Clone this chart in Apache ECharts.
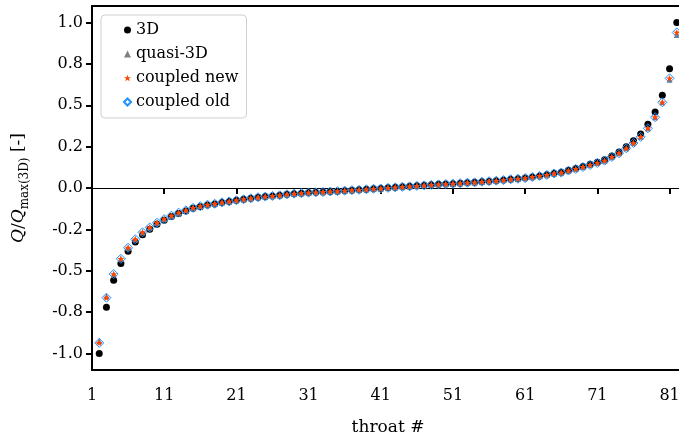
<!DOCTYPE html>
<html>
<head>
<meta charset="utf-8">
<script src="https://cdn.jsdelivr.net/npm/echarts@6/dist/echarts.min.js"></script>
<style>html,body{margin:0;padding:0;background:#fff;}#c{width:679px;height:439px;}</style>
</head>
<body>
<div id="c"></div>
<script>
const throats = [2,3,4,5,6,7,8,9,10,11,12,13,14,15,16,17,18,19,20,21,22,23,24,25,26,27,28,29,30,31,32,33,34,35,36,37,38,39,40,41,42,43,44,45,46,47,48,49,50,51,52,53,54,55,56,57,58,59,60,61,62,63,64,65,66,67,68,69,70,71,72,73,74,75,76,77,78,79,80,81,82];

const threeD = [-1.000,-0.720,-0.557,-0.456,-0.383,-0.327,-0.283,-0.249,-0.219,-0.195,-0.173,-0.154,-0.139,-0.123,-0.113,-0.103,-0.097,-0.088,-0.082,-0.074,-0.068,-0.062,-0.056,-0.052,-0.048,-0.044,-0.038,-0.034,-0.031,-0.028,-0.026,-0.024,-0.021,-0.019,-0.016,-0.013,-0.011,-0.008,-0.005,-0.003,0.001,0.004,0.007,0.010,0.013,0.016,0.019,0.022,0.024,0.026,0.029,0.032,0.034,0.038,0.041,0.044,0.048,0.053,0.056,0.060,0.067,0.073,0.080,0.089,0.095,0.107,0.118,0.130,0.143,0.156,0.171,0.194,0.218,0.250,0.285,0.327,0.385,0.460,0.561,0.720,1.000];

const quasi3D = [-0.925,-0.655,-0.520,-0.428,-0.361,-0.310,-0.268,-0.238,-0.210,-0.188,-0.167,-0.149,-0.135,-0.120,-0.110,-0.101,-0.095,-0.087,-0.081,-0.074,-0.068,-0.062,-0.056,-0.052,-0.048,-0.044,-0.038,-0.034,-0.031,-0.028,-0.026,-0.024,-0.021,-0.019,-0.016,-0.013,-0.011,-0.008,-0.005,-0.003,0.001,0.004,0.007,0.010,0.013,0.016,0.019,0.022,0.024,0.026,0.029,0.032,0.034,0.038,0.041,0.044,0.048,0.053,0.056,0.060,0.067,0.073,0.079,0.088,0.093,0.105,0.115,0.127,0.139,0.151,0.165,0.188,0.210,0.240,0.272,0.309,0.361,0.428,0.518,0.655,0.925];

const coupledNew = [-0.936,-0.663,-0.520,-0.428,-0.361,-0.310,-0.268,-0.238,-0.210,-0.188,-0.167,-0.149,-0.135,-0.120,-0.110,-0.101,-0.095,-0.087,-0.081,-0.074,-0.068,-0.062,-0.056,-0.052,-0.048,-0.044,-0.038,-0.034,-0.031,-0.028,-0.026,-0.024,-0.021,-0.019,-0.016,-0.013,-0.011,-0.008,-0.005,-0.003,0.001,0.004,0.007,0.010,0.013,0.016,0.019,0.022,0.024,0.026,0.029,0.032,0.034,0.038,0.041,0.044,0.048,0.053,0.056,0.060,0.067,0.073,0.079,0.088,0.093,0.105,0.115,0.127,0.139,0.151,0.165,0.188,0.210,0.240,0.272,0.309,0.361,0.428,0.518,0.663,0.940];

const coupledOld = [-0.936,-0.663,-0.520,-0.428,-0.361,-0.310,-0.268,-0.238,-0.210,-0.188,-0.167,-0.149,-0.135,-0.120,-0.110,-0.101,-0.095,-0.087,-0.081,-0.074,-0.068,-0.062,-0.056,-0.052,-0.048,-0.044,-0.038,-0.034,-0.031,-0.028,-0.026,-0.024,-0.021,-0.019,-0.016,-0.013,-0.011,-0.008,-0.005,-0.003,0.001,0.004,0.007,0.010,0.013,0.016,0.019,0.022,0.024,0.026,0.029,0.032,0.034,0.038,0.041,0.044,0.048,0.053,0.056,0.060,0.067,0.073,0.079,0.088,0.093,0.105,0.115,0.127,0.139,0.151,0.165,0.188,0.210,0.240,0.272,0.309,0.361,0.428,0.518,0.663,0.940];

const seriesNames = ['3D','quasi-3D','coupled new','coupled old'];
const xTicks = [1,11,21,31,41,51,61,71,81];
const yTicks = [-1,-0.75,-0.5,-0.25,0,0.25,0.5,0.75,1];
const yTickLabels = ['-1.0','-0.8','-0.5','-0.2','0.0','0.2','0.5','0.8','1.0'];

const FONT = 'DejaVu Serif';
const STAR = 'path://M0,-10L2.35,-3.24L9.51,-3.09L3.8,1.24L5.88,8.09L0,4L-5.88,8.09L-3.8,1.24L-9.51,-3.09L-2.35,-3.24Z';

function pairs(vals){ return throats.map((t,i)=>[t, vals[i]]); }

const chart = echarts.init(document.getElementById('c'), null, {renderer:'canvas'});
chart.setOption({
  animation:false,
  backgroundColor:'#fff',
  grid:{left:92, top:6, right:-5, bottom:69, show:true, borderColor:'#000', borderWidth:2, backgroundColor:'transparent',
        containLabel:false, outerBoundsMode:'none'},
  xAxis:{
    type:'value', min:1, max:83,
    name:'throat #', nameLocation:'middle', nameGap:49,
    nameTextStyle:{fontFamily:FONT, fontSize:17, color:'#000'},
    axisLine:{show:false},
    axisTick:{show:true, length:6, lineStyle:{color:'#000', width:2}, customValues:xTicks},
    axisLabel:{fontFamily:FONT, fontSize:16, color:'#000', margin:18, customValues:xTicks},
    splitLine:{show:false}
  },
  yAxis:{
    type:'value', min:-1.1, max:1.1,
    name:'{i|Q}{r|/}{i|Q}{s|max(3D)}{r| [-]}', nameLocation:'middle', nameGap:61, nameRotate:90,
    nameTextStyle:{fontFamily:FONT, fontSize:17, color:'#000',
      rich:{
        i:{fontFamily:FONT, fontSize:17, fontStyle:'italic', color:'#000', lineHeight:24, verticalAlign:'middle'},
        r:{fontFamily:FONT, fontSize:17, color:'#000', lineHeight:24, verticalAlign:'middle'},
        s:{fontFamily:FONT, fontSize:12, color:'#000', lineHeight:14, verticalAlign:'bottom'}
      }},
    axisLine:{show:false},
    axisTick:{show:true, length:6, lineStyle:{color:'#000', width:2}, customValues:yTicks},
    axisLabel:{fontFamily:FONT, fontSize:16, color:'#000', margin:9, customValues:yTicks,
      formatter:function(v){ const k = yTicks.findIndex(t=>Math.abs(t-v)<1e-9); return k>=0 ? yTickLabels[k] : ''; }},
    splitLine:{show:false}
  },
  legend:{
    orient:'vertical', left:101, top:15,
    data:seriesNames,
    backgroundColor:'rgba(255,255,255,0.85)', borderColor:'#d0d0d0', borderWidth:1, borderRadius:4,
    padding:[7,8,8,22], itemGap:8, itemWidth:7, itemHeight:7,
    textStyle:{fontFamily:FONT, fontSize:16, color:'#000', lineHeight:16}
  },
  series:[
    {name:seriesNames[0], type:'scatter', data:pairs(threeD), symbol:'circle', symbolSize:7,
     itemStyle:{color:'#000', opacity:1}, z:2,
     markLine:{silent:true, symbol:'none', label:{show:false}, lineStyle:{color:'#000', width:1, type:'solid'}, data:[{yAxis:0}], z:1}},
    {name:seriesNames[1], type:'scatter', data:pairs(quasi3D), symbol:'triangle', symbolSize:6,
     itemStyle:{color:'#808080', opacity:1}, z:3},
    {name:seriesNames[2], type:'scatter', data:pairs(coupledNew), symbol:STAR, symbolSize:7,
     itemStyle:{color:'#ff4500', opacity:1}, z:4},
    {name:seriesNames[3], type:'scatter', data:pairs(coupledOld), symbol:'diamond', symbolSize:9,
     itemStyle:{color:'rgba(255,255,255,0)', borderColor:'#1e90ff', borderWidth:1, opacity:1}, z:5}
  ]
});
</script>
</body>
</html>
